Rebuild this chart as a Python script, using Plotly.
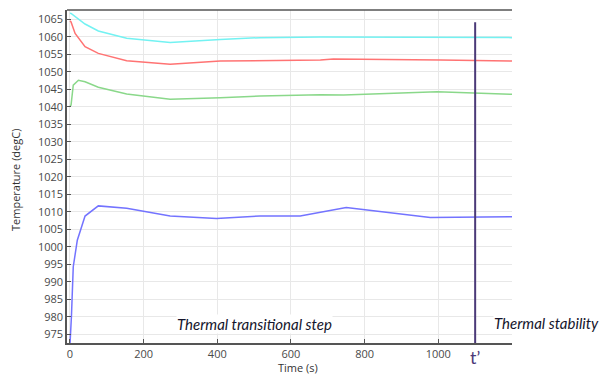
import plotly.graph_objects as go

# Time samples (s) for each curve
t_cyan = [0, 3, 41, 77, 154, 272, 408, 516, 680, 800, 1000, 1100, 1200]
v_cyan = [1066.8, 1066.7, 1063.7, 1061.7, 1059.6, 1058.4, 1059.3, 1059.8, 1060.0, 1060.0, 1060.0, 1059.9, 1059.8]

t_red = [0, 3, 14, 41, 77, 154, 272, 408, 680, 715, 1005, 1200]
v_red = [1064.6, 1064.3, 1061.0, 1057.2, 1055.3, 1053.2, 1052.2, 1053.1, 1053.4, 1053.7, 1053.4, 1053.1]

t_green = [0, 3, 9, 23, 41, 77, 154, 272, 408, 516, 680, 743, 997, 1200]
v_green = [1040.3, 1040.5, 1046.2, 1047.6, 1047.2, 1045.6, 1043.7, 1042.2, 1042.6, 1043.1, 1043.5, 1043.4, 1044.3, 1043.6]

t_blue = [0, 4, 9, 20, 41, 77, 154, 272, 398, 516, 625, 750, 978, 1200]
v_blue = [972.0, 980.0, 994.3, 1001.9, 1008.8, 1011.7, 1011.0, 1008.8, 1008.1, 1008.8, 1008.8, 1011.2, 1008.4, 1008.6]

t_prime = 1100
x_ticks = [0, 200, 400, 600, 800, 1000]
y_ticks = list(range(975, 1066, 5))

L, R, T, B, W, H = 67, 90, 10, 31, 602, 374
pw, ph = W - L - R, H - T - B


def px(x):
    return (x - L) / pw


def py(y):
    return (H - B - y) / ph


fig = go.Figure()
for t, v, c in [(t_cyan, v_cyan, "#73f2f2"), (t_red, v_red, "#ff7373"),
                (t_green, v_green, "#8ad88a"), (t_blue, v_blue, "#7373ff")]:
    fig.add_trace(go.Scatter(x=t, y=v, mode="lines", line=dict(color=c, width=1.5),
                             showlegend=False, hoverinfo="skip"))

fig.add_shape(type="line", x0=t_prime, x1=t_prime, y0=1064.2, y1=972.5,
              xref="x", yref="y", line=dict(color="#4b3a78", width=2))

fig.add_annotation(x=t_prime, y=0, yref="paper", yshift=-1, yanchor="top", xanchor="center",
                   text="t\u2019", showarrow=False,
                   font=dict(family="Lato", size=18, color="#4b3a78"))
fig.add_annotation(x=px(176), xref="paper", y=py(324), yref="paper", yanchor="middle", xanchor="left",
                   text="<i>Thermal transitional step</i>", showarrow=False,
                   font=dict(family="Lato", size=15, color="#14142b"), bgcolor="white",
                   borderpad=0)
fig.add_annotation(x=px(493), xref="paper", y=py(323), yref="paper", yanchor="middle", xanchor="left",
                   text="<i>Thermal stability</i>", showarrow=False,
                   font=dict(family="Lato", size=15, color="#14142b"), bgcolor="white",
                   borderpad=0)
# axis titles
fig.add_annotation(x=px(15), y=py(180), xref="paper", yref="paper", text="Temperature (degC)",
                   textangle=-90, showarrow=False, xanchor="center", yanchor="middle",
                   font=dict(family="Open Sans", size=11, color="#333333"))
fig.add_annotation(x=px(298), y=py(367.5), xref="paper", yref="paper", text="Time (s)",
                   showarrow=False, xanchor="center", yanchor="middle",
                   font=dict(family="Open Sans", size=11, color="#333333"))

axis_common = dict(showgrid=True, gridcolor="#e8e8e8", gridwidth=1,
                   showline=True, linecolor="#555555", linewidth=1.5,
                   ticks="inside", ticklen=4, tickcolor="#555555",
                   tickfont=dict(family="Open Sans", size=11, color="#4a4a4a"),
                   zeroline=False, mirror=False, automargin=False)

fig.update_layout(
    width=W, height=H,
    margin=dict(l=L, r=R, t=T, b=B),
    paper_bgcolor="white", plot_bgcolor="white",
    xaxis=dict(range=[-8, 1200], tickvals=x_ticks, **axis_common),
    yaxis=dict(range=[972.5, 1067.7], tickvals=y_ticks, **axis_common),
)
# top border line
fig.add_shape(type="line", xref="paper", yref="paper", x0=0, x1=1, y0=1, y1=1,
              line=dict(color="#555555", width=1.5))
fig.write_html("out.html", config={"displayModeBar": False},
               post_script="document.body.style.margin='0';document.body.style.overflow='hidden';")
